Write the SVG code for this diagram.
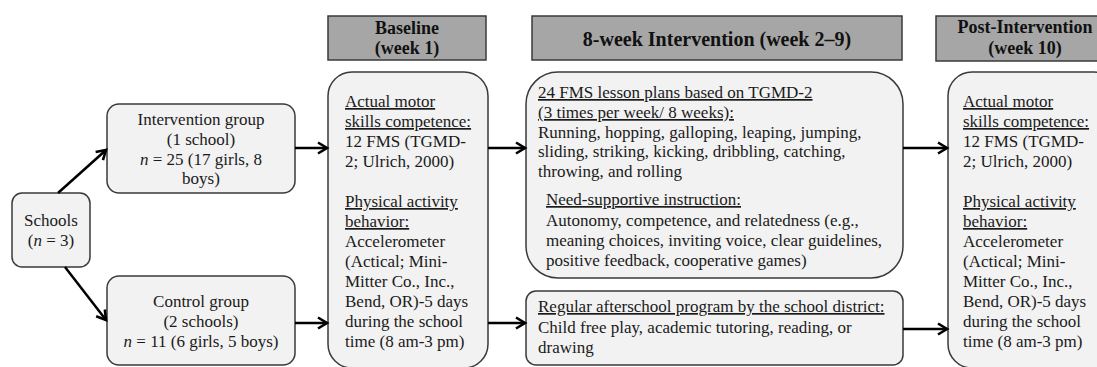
<svg xmlns="http://www.w3.org/2000/svg" width="1097" height="367" viewBox="0 0 1097 367">
<style>
text{font-family:'Liberation Serif','Times New Roman',serif;font-size:17px;fill:#1a1a1a}
.c{text-anchor:middle}
.h{font-weight:bold;font-size:18px;text-anchor:middle;fill:#111}
.box{fill:#f2f2f2;stroke:#3a3a3a;stroke-width:1.5}
.hdr{fill:#a6a6a6;stroke:#3a3a3a;stroke-width:1.5}
.u{text-decoration:underline}
.i{font-style:italic}
.ar{stroke:#000;stroke-width:2.5;fill:none;marker-end:url(#ah)}
</style>
<defs>
<marker id="ah" markerUnits="userSpaceOnUse" markerWidth="16" markerHeight="16" refX="12" refY="8" orient="auto">
<path d="M3,2.5 L12,8 L3,13.5" fill="none" stroke="#000" stroke-width="2.6" stroke-linejoin="miter"/>
</marker>
</defs>
<rect width="1097" height="367" fill="#fff"/>

<g id="hdr-baseline">
<rect class="hdr" x="328" y="16" width="158" height="44"/>
<text class="h" x="407" y="34">Baseline</text>
<text class="h" x="407" y="54">(week 1)</text>
</g>
<g id="hdr-intervention">
<rect class="hdr" x="532" y="16" width="370" height="44"/>
<text class="h" x="717" y="46" style="font-size:20px">8-week Intervention (week 2–9)</text>
</g>
<g id="hdr-post">
<rect class="hdr" x="936" y="16" width="180" height="45"/>
<text class="h" x="1025" y="33">Post-Intervention</text>
<text class="h" x="1025" y="54">(week 10)</text>
</g>

<g id="schools">
<rect class="box" x="12" y="193" width="78" height="74" rx="10"/>
<text class="c" x="51" y="226">Schools</text>
<text class="c" x="51" y="246">(<tspan class="i">n</tspan> = 3)</text>
</g>
<g id="intervention-group">
<rect class="box" x="107" y="104" width="188" height="89" rx="12"/>
<text class="c" x="201" y="125">Intervention group</text>
<text class="c" x="201" y="145">(1 school)</text>
<text class="c" x="201" y="165"><tspan class="i">n</tspan> = 25 (17 girls, 8</text>
<text class="c" x="201" y="184">boys)</text>
</g>
<g id="control-group">
<rect class="box" x="107" y="276" width="188" height="89" rx="12"/>
<text class="c" x="201" y="307">Control group</text>
<text class="c" x="201" y="327">(2 schools)</text>
<text class="c" x="201" y="347"><tspan class="i">n</tspan> = 11 (6 girls, 5 boys)</text>
</g>

<g id="baseline">
<rect class="box" x="328" y="72" width="160" height="296" rx="24"/>
<text x="345" y="107" class="u">Actual motor</text>
<text x="345" y="127" class="u">skills competence:</text>
<text x="345" y="147">12 FMS (TGMD-</text>
<text x="345" y="167">2; Ulrich, 2000)</text>
<text x="345" y="207" class="u">Physical activity</text>
<text x="345" y="227" class="u">behavior:</text>
<text x="345" y="247">Accelerometer</text>
<text x="345" y="267">(Actical; Mini-</text>
<text x="345" y="287">Mitter Co., Inc.,</text>
<text x="345" y="307">Bend, OR)-5 days</text>
<text x="345" y="327">during the school</text>
<text x="345" y="347">time (8 am-3 pm)</text>
</g>

<g id="intervention">
<rect class="box" x="526" y="72" width="377" height="206" rx="32"/>
<text x="538" y="98" class="u">24 FMS lesson plans based on TGMD-2</text>
<text x="538" y="118" class="u">(3 times per week/ 8 weeks):</text>
<text x="538" y="137.5">Running, hopping, galloping, leaping, jumping,</text>
<text x="538" y="157">sliding, striking, kicking, dribbling, catching,</text>
<text x="538" y="177">throwing, and rolling</text>
<text x="546" y="205" class="u">Need-supportive instruction:</text>
<text x="546" y="225.5">Autonomy, competence, and relatedness (e.g.,</text>
<text x="546" y="245.5">meaning choices, inviting voice, clear guidelines,</text>
<text x="546" y="265.5">positive feedback, cooperative games)</text>
</g>

<g id="afterschool">
<rect class="box" x="526" y="291" width="377" height="74" rx="10"/>
<text x="538" y="312" class="u">Regular afterschool program by the school district:</text>
<text x="538" y="333">Child free play, academic tutoring, reading, or</text>
<text x="538" y="353">drawing</text>
</g>

<g id="post">
<rect class="box" x="948" y="72" width="170" height="296" rx="24"/>
<text x="963" y="107" class="u">Actual motor</text>
<text x="963" y="127" class="u">skills competence:</text>
<text x="963" y="147">12 FMS (TGMD-</text>
<text x="963" y="167">2; Ulrich, 2000)</text>
<text x="963" y="207" class="u">Physical activity</text>
<text x="963" y="227" class="u">behavior:</text>
<text x="963" y="247">Accelerometer</text>
<text x="963" y="267">(Actical; Mini-</text>
<text x="963" y="287">Mitter Co., Inc.,</text>
<text x="963" y="307">Bend, OR)-5 days</text>
<text x="963" y="327">during the school</text>
<text x="963" y="347">time (8 am-3 pm)</text>
</g>

<g id="connectors">
<line class="ar" x1="58" y1="193" x2="106" y2="150"/>
<line class="ar" x1="65" y1="267" x2="106" y2="320"/>
<line class="ar" x1="295" y1="148" x2="327" y2="148"/>
<line class="ar" x1="295" y1="323" x2="327" y2="323"/>
<line class="ar" x1="488" y1="148" x2="525" y2="148"/>
<line class="ar" x1="488" y1="323" x2="525" y2="323"/>
<line class="ar" x1="903" y1="148" x2="947" y2="148"/>
<line class="ar" x1="903" y1="329" x2="947" y2="329"/>
</g>
</svg>
